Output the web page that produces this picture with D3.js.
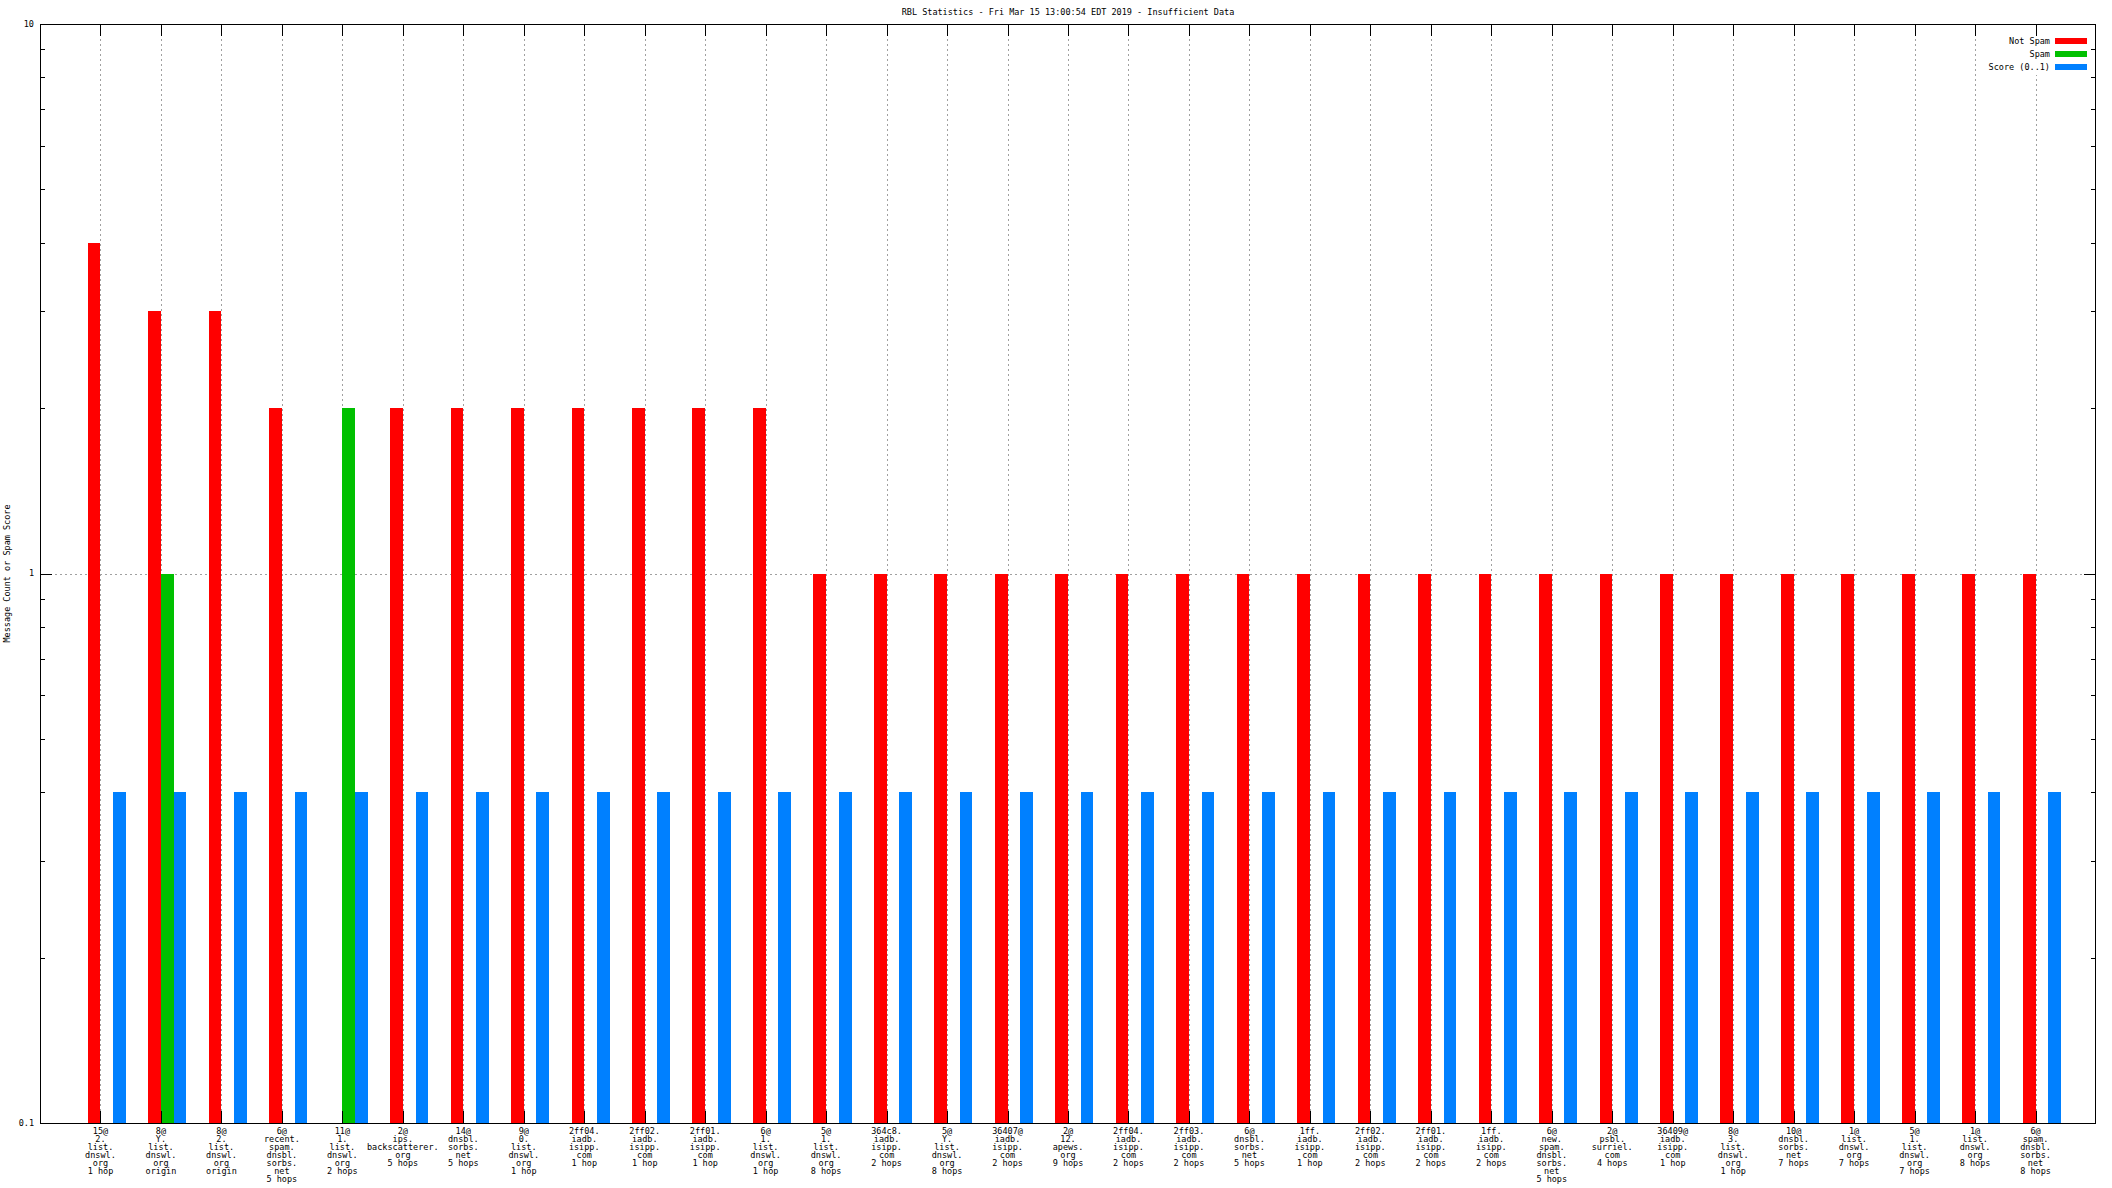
<!DOCTYPE html>
<html><head><meta charset="utf-8">
<script src="https://cdn.jsdelivr.net/npm/d3@7"></script>
<style>html,body{margin:0;padding:0;background:#fff;}svg{display:block;}</style>
</head><body>
<script>
const title = "RBL Statistics - Fri Mar 15 13:00:54 EDT 2019 - Insufficient Data";
const yAxisTitle = "Message Count or Spam Score";
const categories = [
 "15@\n2.\nlist.\ndnswl.\norg\n1 hop",
 "8@\nY.\nlist.\ndnswl.\norg\norigin",
 "8@\n2.\nlist.\ndnswl.\norg\norigin",
 "6@\nrecent.\nspam.\ndnsbl.\nsorbs.\nnet\n5 hops",
 "11@\n1.\nlist.\ndnswl.\norg\n2 hops",
 "2@\nips.\nbackscatterer.\norg\n5 hops",
 "14@\ndnsbl.\nsorbs.\nnet\n5 hops",
 "9@\n0.\nlist.\ndnswl.\norg\n1 hop",
 "2ff04.\niadb.\nisipp.\ncom\n1 hop",
 "2ff02.\niadb.\nisipp.\ncom\n1 hop",
 "2ff01.\niadb.\nisipp.\ncom\n1 hop",
 "6@\n1.\nlist.\ndnswl.\norg\n1 hop",
 "5@\n1.\nlist.\ndnswl.\norg\n8 hops",
 "364c8.\niadb.\nisipp.\ncom\n2 hops",
 "5@\nY.\nlist.\ndnswl.\norg\n8 hops",
 "36407@\niadb.\nisipp.\ncom\n2 hops",
 "2@\n12.\napews.\norg\n9 hops",
 "2ff04.\niadb.\nisipp.\ncom\n2 hops",
 "2ff03.\niadb.\nisipp.\ncom\n2 hops",
 "6@\ndnsbl.\nsorbs.\nnet\n5 hops",
 "1ff.\niadb.\nisipp.\ncom\n1 hop",
 "2ff02.\niadb.\nisipp.\ncom\n2 hops",
 "2ff01.\niadb.\nisipp.\ncom\n2 hops",
 "1ff.\niadb.\nisipp.\ncom\n2 hops",
 "6@\nnew.\nspam.\ndnsbl.\nsorbs.\nnet\n5 hops",
 "2@\npsbl.\nsurriel.\ncom\n4 hops",
 "36409@\niadb.\nisipp.\ncom\n1 hop",
 "8@\n3.\nlist.\ndnswl.\norg\n1 hop",
 "10@\ndnsbl.\nsorbs.\nnet\n7 hops",
 "1@\nlist.\ndnswl.\norg\n7 hops",
 "5@\n1.\nlist.\ndnswl.\norg\n7 hops",
 "1@\nlist.\ndnswl.\norg\n8 hops",
 "6@\nspam.\ndnsbl.\nsorbs.\nnet\n8 hops"
];
const notSpam = [4,3,3,2,0,2,2,2,2,2,2,2,1,1,1,1,1,1,1,1,1,1,1,1,1,1,1,1,1,1,1,1,1];
const spam    = [0,1,0,0,2,0,0,0,0,0,0,0,0,0,0,0,0,0,0,0,0,0,0,0,0,0,0,0,0,0,0,0,0];
const score   = [0.4,0.4,0.4,0.4,0.4,0.4,0.4,0.4,0.4,0.4,0.4,0.4,0.4,0.4,0.4,0.4,0.4,0.4,0.4,0.4,0.4,0.4,0.4,0.4,0.4,0.4,0.4,0.4,0.4,0.4,0.4,0.4,0.4];
const seriesNames = ["Not Spam","Spam","Score (0..1)"];
const seriesColors = ["#ff0000","#00c000","#0080ff"];
const yTickValues = [0.1,1,10];
const yTickLabels = ["0.1","1","10"];

const W=2112,H=1188;
const L=40,R=2096,T=24,B=1123;
const FONT='"DejaVu Sans Mono", "Liberation Mono", monospace';

const svg=d3.select("body").append("svg").attr("width",W).attr("height",H)
  .style("font-family",FONT).style("font-size","8.5px").style("fill","#000");

const x=d3.scaleLinear().domain([0,categories.length+1]).range([L,R]);
const y=d3.scaleLog().domain([0.1,10]).range([B,T]);
const bw = x(0.21)-x(0);

// gridlines
const grid=svg.append("g").attr("stroke","#a0a0a0").attr("stroke-width",1).attr("stroke-dasharray","2,3").attr("shape-rendering","crispEdges");
categories.forEach((c,i)=>{
  const xx=Math.round(x(i+1))+0.5;
  grid.append("line").attr("x1",xx).attr("x2",xx).attr("y1",T).attr("y2",B);
});
grid.append("line").attr("x1",L).attr("x2",R).attr("y1",Math.round(y(1))+0.5).attr("y2",Math.round(y(1))+0.5);

// bars
const series=[notSpam,spam,score];
const offsets=[-1,0,1];
const bars=svg.append("g").attr("shape-rendering","crispEdges");
series.forEach((vals,s)=>{
  bars.selectAll(null).data(vals.map((v,i)=>({v,i}))).enter().filter(d=>d.v>0)
    .append("rect")
    .attr("x",d=>x(d.i+1)+offsets[s]*bw)
    .attr("width",bw)
    .attr("y",d=>y(d.v))
    .attr("height",d=>B-y(d.v))
    .attr("fill",seriesColors[s]);
});

// legend background
svg.append("rect").attr("x",1984).attr("y",35).attr("width",108).attr("height",40).attr("fill","#fff");

// border
svg.append("rect").attr("x",L+0.5).attr("y",T+0.5).attr("width",R-L-1).attr("height",B-T).attr("fill","none")
  .attr("stroke","#000").attr("stroke-width",1.2).attr("shape-rendering","crispEdges");

// ticks
const tk=svg.append("g").attr("stroke","#000").attr("stroke-width",1.2).attr("shape-rendering","crispEdges");
const minor=[];
[0.1,1].forEach(d=>{for(let k=2;k<=9;k++) minor.push(k*d);});
minor.forEach(v=>{
  const yy=Math.round(y(v))+0.5;
  tk.append("line").attr("x1",L).attr("x2",L+5).attr("y1",yy).attr("y2",yy);
  tk.append("line").attr("x1",R).attr("x2",R-5).attr("y1",yy).attr("y2",yy);
});
yTickValues.forEach(v=>{
  const yy=Math.round(y(v))+0.5;
  tk.append("line").attr("x1",L).attr("x2",L+12).attr("y1",yy).attr("y2",yy);
  tk.append("line").attr("x1",R).attr("x2",R-12).attr("y1",yy).attr("y2",yy);
});
categories.forEach((c,i)=>{
  const xx=Math.round(x(i+1))+0.5;
  tk.append("line").attr("x1",xx).attr("x2",xx).attr("y1",B).attr("y2",B-12);
  tk.append("line").attr("x1",xx).attr("x2",xx).attr("y1",T).attr("y2",T+12);
});

// y tick labels
svg.append("g").selectAll("text").data(yTickValues).enter().append("text")
  .attr("x",34).attr("y",d=>y(d)).attr("dy","0.35em").attr("text-anchor","end")
  .text((d,i)=>yTickLabels[i]);

// x labels
const xl=svg.append("g");
categories.forEach((c,i)=>{
  const t=xl.append("text").attr("x",x(i+1)).attr("y",B+11).attr("text-anchor","middle");
  c.split("\n").forEach((line,j)=>{
    t.append("tspan").attr("x",x(i+1)).attr("y",B+11+j*8).text(line);
  });
});

// title
svg.append("text").attr("x",(L+R)/2).attr("y",12).attr("dy","0.35em").attr("text-anchor","middle").text(title);

// y axis title
svg.append("text").attr("transform",`translate(7,${(T+B)/2}) rotate(-90)`).attr("text-anchor","middle").attr("dy","0.35em").text(yAxisTitle);

// legend
const lg=svg.append("g");
seriesNames.forEach((n,i)=>{
  const yy=41+i*13;
  lg.append("text").attr("x",2050).attr("y",yy).attr("dy","0.35em").attr("text-anchor","end").text(n);
  lg.append("rect").attr("x",2055).attr("y",yy-3).attr("width",32).attr("height",6).attr("fill",seriesColors[i]);
});
</script>
</body></html>
